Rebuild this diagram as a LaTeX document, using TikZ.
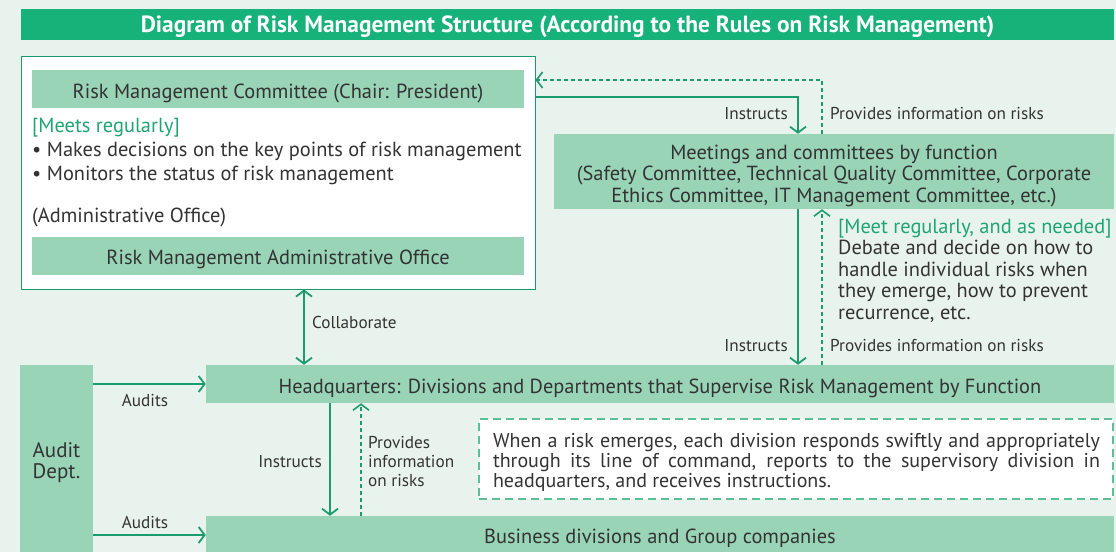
\documentclass[tikz,border=0pt]{standalone}
\usepackage{fontspec}
\setmainfont{PT Sans}
\usetikzlibrary{arrows.meta,calc}
\definecolor{bgc}{HTML}{E9F3EE}
\definecolor{titlec}{HTML}{17B27A}
\definecolor{barc}{HTML}{99D4B7}
\definecolor{linec}{HTML}{1A9C6C}
\definecolor{txtc}{HTML}{333333}
\definecolor{grtxt}{HTML}{1FA574}
\definecolor{dashc}{HTML}{5CBF98}
\newcommand{\lowered}[2]{\smash{\raisebox{-#1}{#2}}}
\newcommand{\lines}[1]{\begin{tabular}[t]{@{}c@{}}#1\end{tabular}}
\newcommand{\llines}[1]{\begin{tabular}[t]{@{}l@{}}#1\end{tabular}}
\begin{document}
\begin{tikzpicture}[x=1pt,y=-1pt,
  bar/.style={fill=barc, draw=none, inner sep=0pt, text=txtc, font=\fontsize{20.4}{21.5}\selectfont},
  lbl/.style={text=txtc, font=\fontsize{17.2}{19}\selectfont, inner sep=0pt},
  body/.style={text=txtc, font=\fontsize{20.4}{24}\selectfont, inner sep=0pt},
  arr/.style={draw=linec, line width=1.8pt, -{Straight Barb[length=6pt,width=16pt]}},
  darr/.style={draw=linec, line width=1.6pt, dash pattern=on 4pt off 3pt, -{Straight Barb[length=6pt,width=16pt]}},
  barr/.style={draw=linec, line width=1.8pt, {Straight Barb[length=6pt,width=16pt]}-{Straight Barb[length=6pt,width=16pt]}}
]
\useasboundingbox (0,0) rectangle (1116,552);
\fill[bgc] (0,0) rectangle (1116,552);

% title
\node[fill=titlec, minimum width=1093pt, minimum height=31pt, inner sep=0pt, text=white,
  font=\fontsize{23.4}{24}\selectfont\bfseries] (title) at (567.5,24.5)
  {\lowered{7.5pt}{Diagram of Risk Management Structure (According to the Rules on Risk Management)}};

% outer white box
\node[draw=linec, line width=1pt, fill=white, minimum width=514pt, minimum height=233pt, inner sep=0pt] (outer) at (278,172.5) {};

\node[bar, minimum width=492pt, minimum height=38pt] (rmc) at (278,89) {\lowered{9pt}{Risk Management Committee (Chair: President)}};
\node[body, anchor=base west, text=grtxt] (meets) at (32,132) {[Meets regularly]};
\node[body, anchor=base west] (bul) at (32,156) {\lowered{0pt}{\llines{\textbullet\ Makes decisions on the key points of risk management\\\textbullet\ Monitors the status of risk management}}};
\node[body, anchor=base west] (adm) at (32,222.5) {(Administrative Office)};
\node[bar, minimum width=492pt, minimum height=38pt] (rmao) at (278,256) {\lowered{8.5pt}{Risk Management Administrative Office}};

% meetings box
\node[bar, minimum width=560pt, minimum height=75pt] (meet) at (834,171.5)
  {\lowered{-12.5pt}{\lines{Meetings and committees by function\\(Safety Committee, Technical Quality Committee, Corporate\\Ethics Committee, IT Management Committee, etc.)}}};
\node[body, anchor=base west, font=\fontsize{20.4}{21.5}\selectfont] (mtxt) at (838,233)
  {\lowered{0pt}{\llines{\textcolor{grtxt}{[Meet regularly, and as needed]}\\Debate and decide on how to\\handle individual risks when\\they emerge, how to prevent\\recurrence, etc.}}};

% headquarters
\node[bar, minimum width=908pt, minimum height=38pt] (hq) at (660,384)
  {\lowered{9pt}{Headquarters: Divisions and Departments that Supervise Risk Management by Function}};
\node[bar, minimum width=908pt, minimum height=36pt] (biz) at (660,534)
  {\lowered{9pt}{Business divisions and Group companies}};
\node[bar, minimum width=73pt, minimum height=187pt, font=\fontsize{21}{21}\selectfont] (audit) at (56.5,458.5) {\lowered{-1.5pt}{\lines{Audit\\Dept.}}};

% dashed box
\node[draw=dashc, line width=2.6pt, dash pattern=on 8pt off 5pt, fill=white, minimum width=634pt, minimum height=80pt, inner sep=0pt] (note) at (796,459) {};
\node[text=txtc, font=\fontsize{20}{20}\selectfont, inner sep=0pt, anchor=base] (notetxt) at (796.5,447)
  {\lowered{0pt}{\parbox[t]{607pt}{\lineskiplimit=-20pt\lineskip=0pt
  When a risk emerges, each division responds swiftly and appropriately\linebreak through its line of command, reports to the supervisory division in\linebreak headquarters, and receives instructions.}}};

% coordinates for connector lines
\coordinate (xA) at (798,0);
\coordinate (xB) at (822,0);
\coordinate (xC) at (304,0);
\coordinate (xD) at (330,0);
\coordinate (xE) at (361,0);
\coordinate (yA) at (0,97);
\coordinate (yB) at (0,80);
\coordinate (yC) at (0,384);
\coordinate (yD) at (0,535);

% connectors
\draw[arr] (outer.east |- yA) -| (meet.north -| xA);
\draw[darr] (meet.north -| xB) |- (outer.east |- yB);
\draw[arr] (meet.south -| xA) -- (hq.north -| xA);
\draw[darr] (hq.north -| xB) -- (meet.south -| xB);
\draw[barr] (outer.south -| xC) -- (hq.north -| xC);
\draw[arr] (audit.east |- yC) -- (hq.west |- yC);
\draw[arr] (audit.east |- yD) -- (biz.west |- yD);
\draw[arr] (hq.south -| xD) -- (biz.north -| xD);
\draw[darr] (biz.north -| xE) -- (hq.south -| xE);

% labels
\node[lbl, anchor=base east] (l1) at (788,119) {Instructs};
\node[lbl, anchor=base west] (l2) at (830,119) {Provides information on risks};
\node[lbl, anchor=base east] (l3) at (788,351) {Instructs};
\node[lbl, anchor=base west] (l4) at (830,351) {Provides information on risks};
\node[lbl, anchor=base west] (l5) at (312,328) {Collaborate};
\node[lbl, anchor=base] (l6) at (145,406) {Audits};
\node[lbl, anchor=base] (l7) at (145,528) {Audits};
\node[lbl, anchor=base east] (l8) at (322,467) {Instructs};
\node[lbl, anchor=base west] (l9) at (368,448) {\lowered{0pt}{\llines{Provides\\information\\on risks}}};
\end{tikzpicture}
\end{document}
